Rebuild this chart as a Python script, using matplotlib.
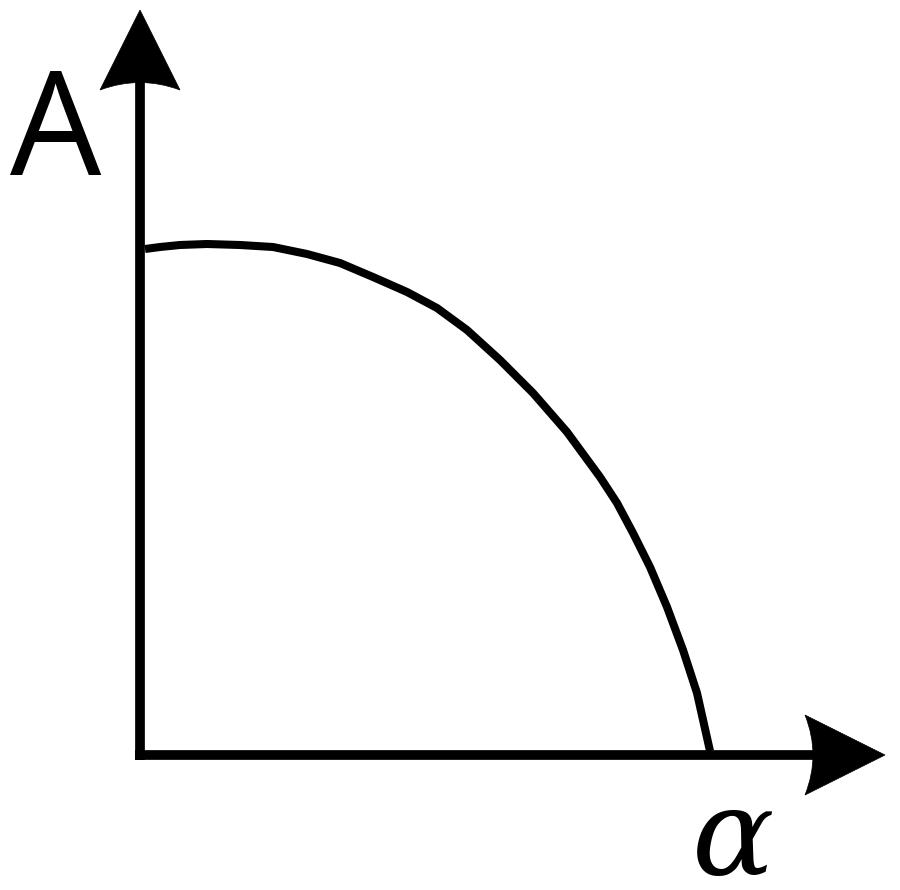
'''
sketch of amplitude A against alpha
'''

import matplotlib
matplotlib.use('Agg')
import matplotlib.pyplot as plt
from matplotlib.path import Path
from matplotlib.patches import PathPatch

# curve (arbitrary units, origin at axes corner)
alpha = [0.05, 0.20, 0.40, 0.67, 1.00, 1.33, 1.67, 2.00, 2.33, 2.67, 2.97, 3.27, 3.60,
         3.93, 4.27, 4.60, 4.77, 4.93, 5.10, 5.27, 5.43, 5.57, 5.70]
amp = [5.06, 5.08, 5.10, 5.11, 5.10, 5.08, 5.01, 4.92, 4.78, 4.63, 4.47, 4.25, 3.95,
       3.62, 3.23, 2.78, 2.52, 2.22, 1.88, 1.48, 1.05, 0.62, 0.04]

x_label = r'$\alpha$'
y_label = 'A'

plt.rcParams['mathtext.fontset'] = 'dejavuserif'

fig = plt.figure(figsize=(9, 8.9), dpi=100)
ax = fig.add_axes([0, 0, 1, 1])
ax.set_xlim(-1.40, 7.60)
ax.set_ylim(-1.35, 7.55)
ax.axis('off')

# axes lines
ax.plot([0, 0], [-0.05, 6.75], color='black', lw=7, solid_capstyle='butt')
ax.plot([-0.05, 6.75], [0, 0], color='black', lw=7, solid_capstyle='butt')

# arrow heads with concave backs
def head(tip, c1, ctrl, c2):
    verts = [tip, c1, ctrl, c2, tip]
    codes = [Path.MOVETO, Path.LINETO, Path.CURVE3, Path.CURVE3, Path.CLOSEPOLY]
    ax.add_patch(PathPatch(Path(verts, codes), facecolor='black', edgecolor='black', lw=0.5))

head((0, 7.45), (-0.40, 6.65), (0, 6.80), (0.40, 6.65))
head((7.45, 0), (6.65, 0.40), (6.81, 0), (6.65, -0.40))

ax.plot(alpha, amp, color='black', lw=5.8, solid_capstyle='butt', solid_joinstyle='round')

ax.text(-0.84, 5.80, y_label, fontsize=104, family='Open Sans', ha='center', va='baseline')
ax.text(5.92, -1.20, x_label, fontsize=88, ha='center', va='baseline')

plt.savefig('out.png', dpi=100)
